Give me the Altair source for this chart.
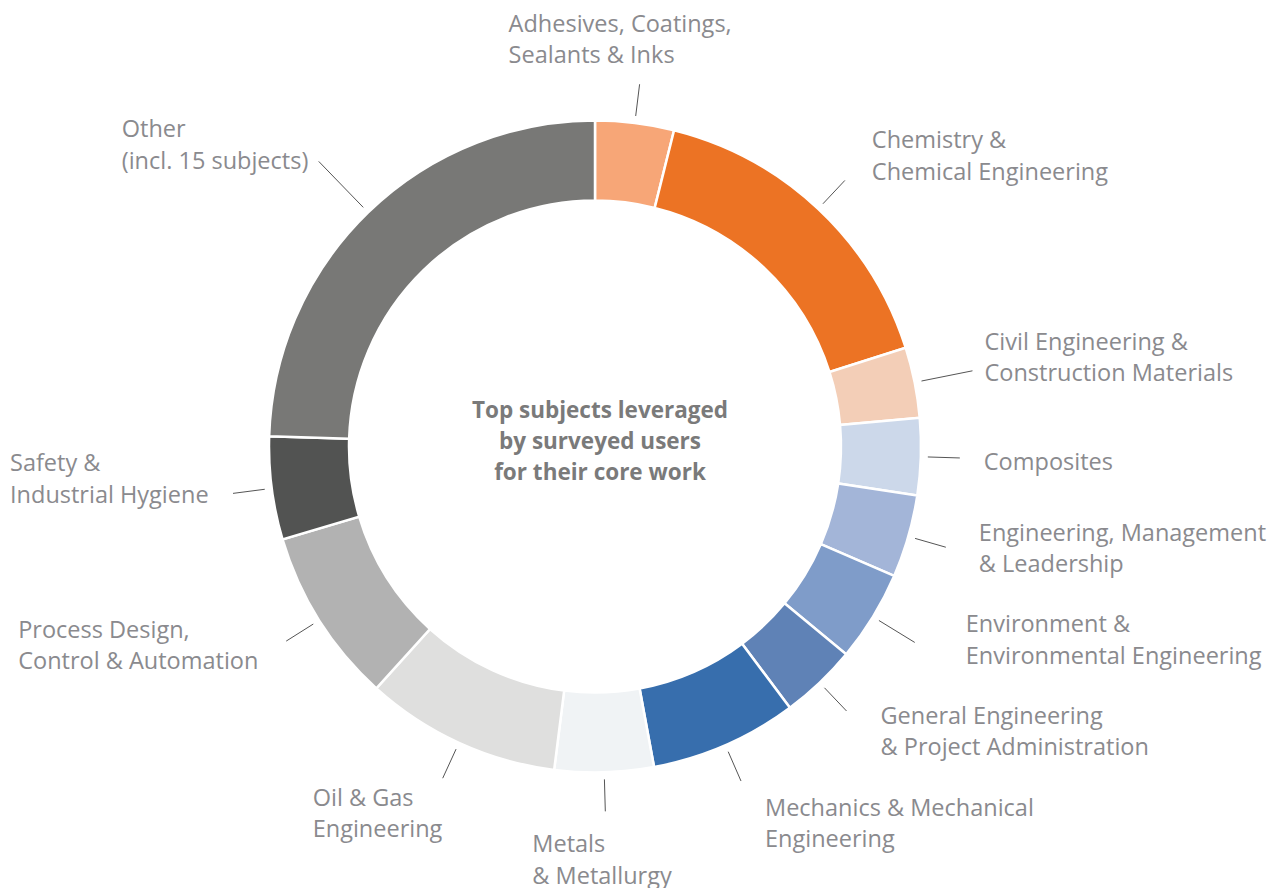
import math
import altair as alt
import pandas as pd

# ---------------- data ----------------
subjects = [
    "Adhesives, Coatings,\nSealants & Inks",
    "Chemistry &\nChemical Engineering",
    "Civil Engineering &\nConstruction Materials",
    "Composites",
    "Engineering, Management\n& Leadership",
    "Environment &\nEnvironmental Engineering",
    "General Engineering\n& Project Administration",
    "Mechanics & Mechanical\nEngineering",
    "Metals\n& Metallurgy",
    "Oil & Gas\nEngineering",
    "Process Design,\nControl & Automation",
    "Safety &\nIndustrial Hygiene",
    "Other\n(incl. 15 subjects)",
]
shares = [3.9, 16.2, 3.5, 3.8, 4.1, 4.5, 3.8, 7.3, 4.9, 9.7, 8.7, 5.1, 24.5]
colors = ["#F7A677", "#EC7324", "#F3CEB7", "#CCD8EA", "#A3B5D8", "#7F9CC9",
          "#5F82B6", "#376EAD", "#F0F3F5", "#DFDFDE", "#B2B2B2", "#525352", "#787876"]
center_text = "Top subjects leveraged\nby surveyed users\nfor their core work"

# ---------------- layout (style) ----------------
W, H = 1265, 880
CX, CY = 587, 438.5
R_OUT, R_IN = 326, 246
LEAD_START = 333
LH = 31.5
lead_end = [365, 365, 385, 365, 365, 375, 365, 365, 365, 365, 365, 365, 397]
label_nudge = [(-131, -45), (27, -25), (12, -14), (24, 4), (33, 1), (51, -3),
               (34, 20), (24, 42), (-73, 48), (-130, 35), (-268, 4), (-223, -15),
               (-197, -17)]

total = sum(shares)
rows = []
cum = 0.0
for i, (s, v) in enumerate(zip(subjects, shares)):
    mid = (cum + v / 2) / total * 2 * math.pi
    cum += v
    sx, cy_ = math.sin(mid), math.cos(mid)
    x1, y1 = CX + LEAD_START * sx, CY - LEAD_START * cy_
    x2, y2 = CX + lead_end[i] * sx, CY - lead_end[i] * cy_
    nlines = s.count("\n") + 1
    rows.append(dict(idx=i, subject=s, value=v, x1=x1, y1=y1, x2=x2, y2=y2,
                     lx=x2 + label_nudge[i][0],
                     ly=y2 + label_nudge[i][1] - (nlines - 1) * LH / 2 + 1.5))
df = pd.DataFrame(rows)

xs = alt.Scale(domain=[0, W], nice=False, zero=False)
ys = alt.Scale(domain=[H, 0], nice=False, zero=False)

arcs = alt.Chart(df).mark_arc(
    innerRadius=R_IN, outerRadius=R_OUT, stroke="white", strokeWidth=2.5
).encode(
    theta=alt.Theta("value:Q", stack=True),
    color=alt.Color("subject:N", scale=alt.Scale(domain=subjects, range=colors), legend=None),
    order=alt.Order("idx:Q"),
    x=alt.value(CX),
    y=alt.value(CY),
)

leaders = alt.Chart(df).mark_rule(color="#555555", strokeWidth=1).encode(
    x=alt.X("x1:Q", scale=xs, axis=None),
    y=alt.Y("y1:Q", scale=ys, axis=None),
    x2="x2:Q",
    y2="y2:Q",
)

labels = alt.Chart(df).mark_text(
    align="left", baseline="middle", lineBreak="\n", font="Open Sans",
    fontSize=23.5, lineHeight=LH, color="#8A8A8E"
).encode(
    x=alt.X("lx:Q", scale=xs, axis=None),
    y=alt.Y("ly:Q", scale=ys, axis=None),
    text="subject:N",
)

center = alt.Chart(pd.DataFrame({"t": [center_text]})).mark_text(
    align="center", baseline="middle", lineBreak="\n", font="Open Sans",
    fontSize=22.5, fontWeight="bold", lineHeight=31, color="#7A7A7A"
).encode(
    text="t:N",
    x=alt.value(CX + 5),
    y=alt.value(CY - 36),
)

chart = alt.layer(arcs, leaders, labels, center).properties(
    width=W, height=H, autosize=alt.AutoSizeParams(type="none"), padding=0
).configure_view(stroke=None)

chart.save("out.html", embed_options={"renderer": "svg", "actions": False})
